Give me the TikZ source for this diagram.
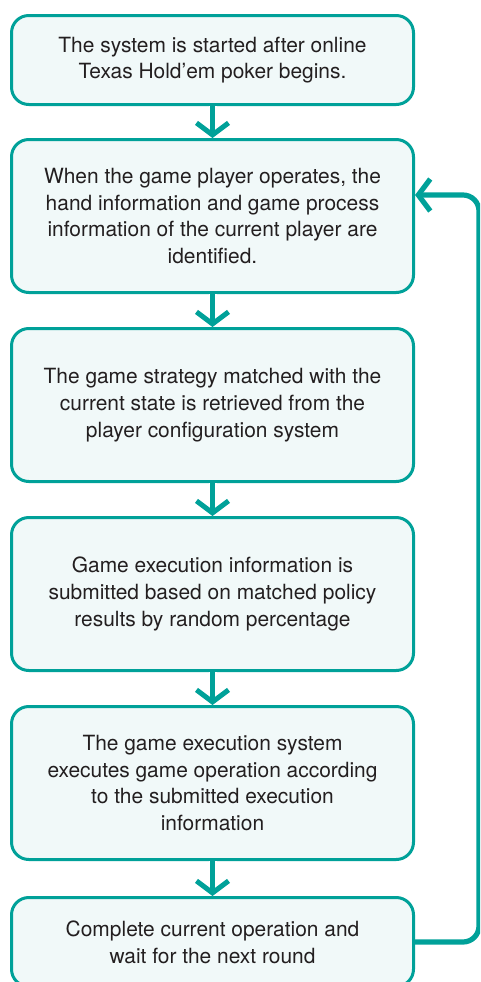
\documentclass[tikz,border=0pt]{standalone}
\usepackage{fontspec}
\setmainfont{TeX Gyre Heros}
\usetikzlibrary{arrows.meta,positioning}
\definecolor{pteal}{HTML}{00A199}
\definecolor{pfill}{HTML}{F1F9F9}
\definecolor{ptext}{HTML}{231F20}

\begin{document}
\begin{tikzpicture}[
    x=0.75pt, y=0.75pt,
    phase/.style={rectangle, draw=pteal, fill=pfill, line width=2.25pt, rounded corners=13pt, minimum width=301.5pt, align=center, text=ptext, font=\fontsize{15.7pt}{20pt}\selectfont},
    flow/.style={pteal, line width=3.75pt, -{Straight Barb[length=9pt, width=24pt]}, preaction={draw=white, line width=6pt, -{Straight Barb[length=9pt, width=26pt]}}},
    loop/.style={pteal, line width=3.9pt, rounded corners=12pt, -{Straight Barb[length=9pt, width=24pt]}}
]
\useasboundingbox (0,0) rectangle (480,-982);
\clip (0,0) rectangle (480,-982);

% Etapes
\node[phase, minimum height=66.75pt] (start) at (212.5,-60) {The system is started after online\\Texas Hold'em poker begins.};
\node[phase, minimum height=114.75pt] (ident) at (212.5,-216) {When the game player operates, the\\hand information and game process\\information of the current player are\\identified.};
\node[phase, minimum height=114.75pt] (strat) at (212.5,-405) {The game strategy matched with the\\current state is retrieved from the\\player configuration system};
\node[phase, minimum height=114.75pt] (submit) at (212.5,-594) {Game execution information is\\submitted based on matched policy\\results by random percentage};
\node[phase, minimum height=114.75pt] (exec) at (212.5,-783) {The game execution system\\executes game operation according\\to the submitted execution\\information};
\node[phase, minimum height=66.75pt] (wait) at (212.5,-942) {Complete current operation and\\wait for the next round};

% Fleches
\draw[flow] (start) -- (ident);
\draw[flow] (ident) -- (strat);
\draw[flow] (strat) -- (submit);
\draw[flow] (submit) -- (exec);
\draw[flow] (exec) -- (wait);

% Boucle
\draw[loop] (wait.east) -- ++(64,0) |- ([yshift=15.75pt]ident.east);

\end{tikzpicture}
\end{document}
